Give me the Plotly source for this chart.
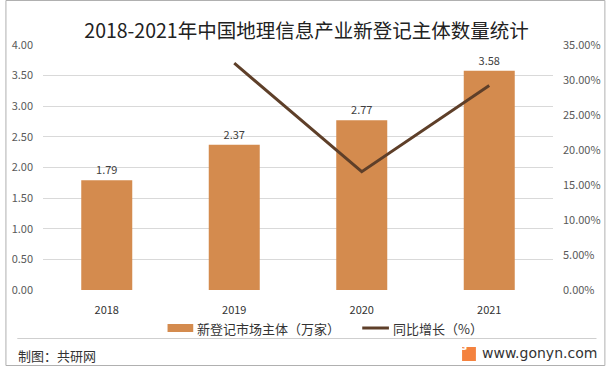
import plotly.graph_objects as go

years = ["2018", "2019", "2020", "2021"]
entities = [1.79, 2.37, 2.77, 3.58]
growth_years = ["2019", "2020", "2021"]
growth = [0.324, 0.169, 0.292]
left_ticks = [0, 0.5, 1.0, 1.5, 2.0, 2.5, 3.0, 3.5, 4.0]
right_ticks = [0, 0.05, 0.10, 0.15, 0.20, 0.25, 0.30, 0.35]
bar_name = "新登记市场主体（万家）"
line_name = "同比增长（%）"

W, H = 613, 369
L, R, T, B = 41, 56, 45, 79
pw, ph = W - L - R, H - T - B

def px(x):
    return (x - L) / pw

def py(y):
    return (H - B - y) / ph

FONT = "Noto Sans CJK SC"
BAR_COLOR = "#D48B4E"
LINE_COLOR = "#5E3F29"

fig = go.Figure()
fig.add_trace(go.Bar(
    x=years, y=entities, name=bar_name,
    marker=dict(color=BAR_COLOR, line=dict(width=0)),
    width=0.4,
    text=[f"{v:.2f}" for v in entities], textposition="outside",
    textfont=dict(size=11, color="#404040", family=FONT),
    cliponaxis=False, showlegend=False,
))
fig.add_trace(go.Scatter(
    x=growth_years, y=growth, name=line_name, yaxis="y2",
    mode="lines", line=dict(color=LINE_COLOR, width=3), showlegend=False,
))

fig.update_layout(
    width=W, height=H,
    margin=dict(l=L, r=R, t=T, b=B),
    paper_bgcolor="white", plot_bgcolor="white",
    font=dict(family=FONT, color="#595959"),
    title=dict(text="2018-2021年中国地理信息产业新登记主体数量统计",
               x=0.5, xref="container", xanchor="center",
               y=1 - 31 / H, yref="container", yanchor="middle",
               font=dict(size=19.5, color="#222222", family=FONT)),
    xaxis=dict(type="category", showgrid=False, showline=False, ticks="",
               tickfont=dict(size=11, color="#333333"), ticklabelstandoff=12),
    yaxis=dict(range=[0, 4], tickvals=left_ticks, tickformat=".2f",
               showgrid=True, gridcolor="#D9D9D9", gridwidth=1,
               zeroline=False, showline=False, ticks="",
               tickfont=dict(size=11, color="#595959"), ticklabelstandoff=9),
    yaxis2=dict(range=[0, 0.35], tickvals=right_ticks, tickformat=".2%",
                overlaying="y", side="right", showgrid=False, zeroline=False,
                showline=False, ticks="",
                tickfont=dict(size=11, color="#595959"), ticklabelstandoff=9),
    showlegend=False,
)

# legend (drawn manually to mimic the wide bar swatch)
fig.add_shape(type="rect", xref="paper", yref="paper",
              x0=px(167), x1=px(193), y0=py(332), y1=py(324),
              line=dict(width=0), fillcolor=BAR_COLOR)
fig.add_annotation(text=bar_name, xref="paper", yref="paper",
                   x=px(195), y=py(328), xanchor="left", yanchor="middle",
                   showarrow=False, font=dict(size=13, color="#333333", family=FONT))
fig.add_shape(type="line", xref="paper", yref="paper",
              x0=px(364), x1=px(391), y0=py(328), y1=py(328),
              line=dict(color=LINE_COLOR, width=3))
fig.add_annotation(text=line_name, xref="paper", yref="paper",
                   x=px(393), y=py(328), xanchor="left", yanchor="middle",
                   showarrow=False, font=dict(size=13, color="#333333", family=FONT))

# outer frame
fig.add_shape(type="rect", xref="paper", yref="paper",
              x0=px(3.5), x1=px(609.5), y0=py(365.5), y1=py(0.5),
              line=dict(color="#B0B0B0", width=1), fillcolor="rgba(0,0,0,0)", layer="above")
# footer separator
fig.add_shape(type="line", xref="paper", yref="paper",
              x0=px(15), x1=px(601), y0=py(338.5), y1=py(338.5),
              line=dict(color="#CFCFCF", width=1))
# logo
fig.add_shape(type="rect", xref="paper", yref="paper",
              x0=px(465), x1=px(479), y0=py(361), y1=py(347),
              line=dict(width=0), fillcolor="#F4823F")
fig.add_annotation(text="<b>G</b>", xref="paper", yref="paper",
                   x=px(472), y=py(354), showarrow=False,
                   font=dict(size=10, color="white", family="DejaVu Sans"))
fig.add_annotation(text="制图：共研网", xref="paper", yref="paper",
                   x=px(14), y=py(355), xanchor="left", yanchor="middle",
                   showarrow=False, font=dict(size=13, color="#333333", family=FONT))
fig.add_annotation(text="www.gonyn.com", xref="paper", yref="paper",
                   x=px(604), y=py(353), xanchor="right", yanchor="middle",
                   showarrow=False, font=dict(size=14, color="#333333", family="DejaVu Sans"))

fig.write_html("out.html", config={"displayModeBar": False},
               post_script="document.body.style.margin='0';document.body.style.overflow='hidden';")
